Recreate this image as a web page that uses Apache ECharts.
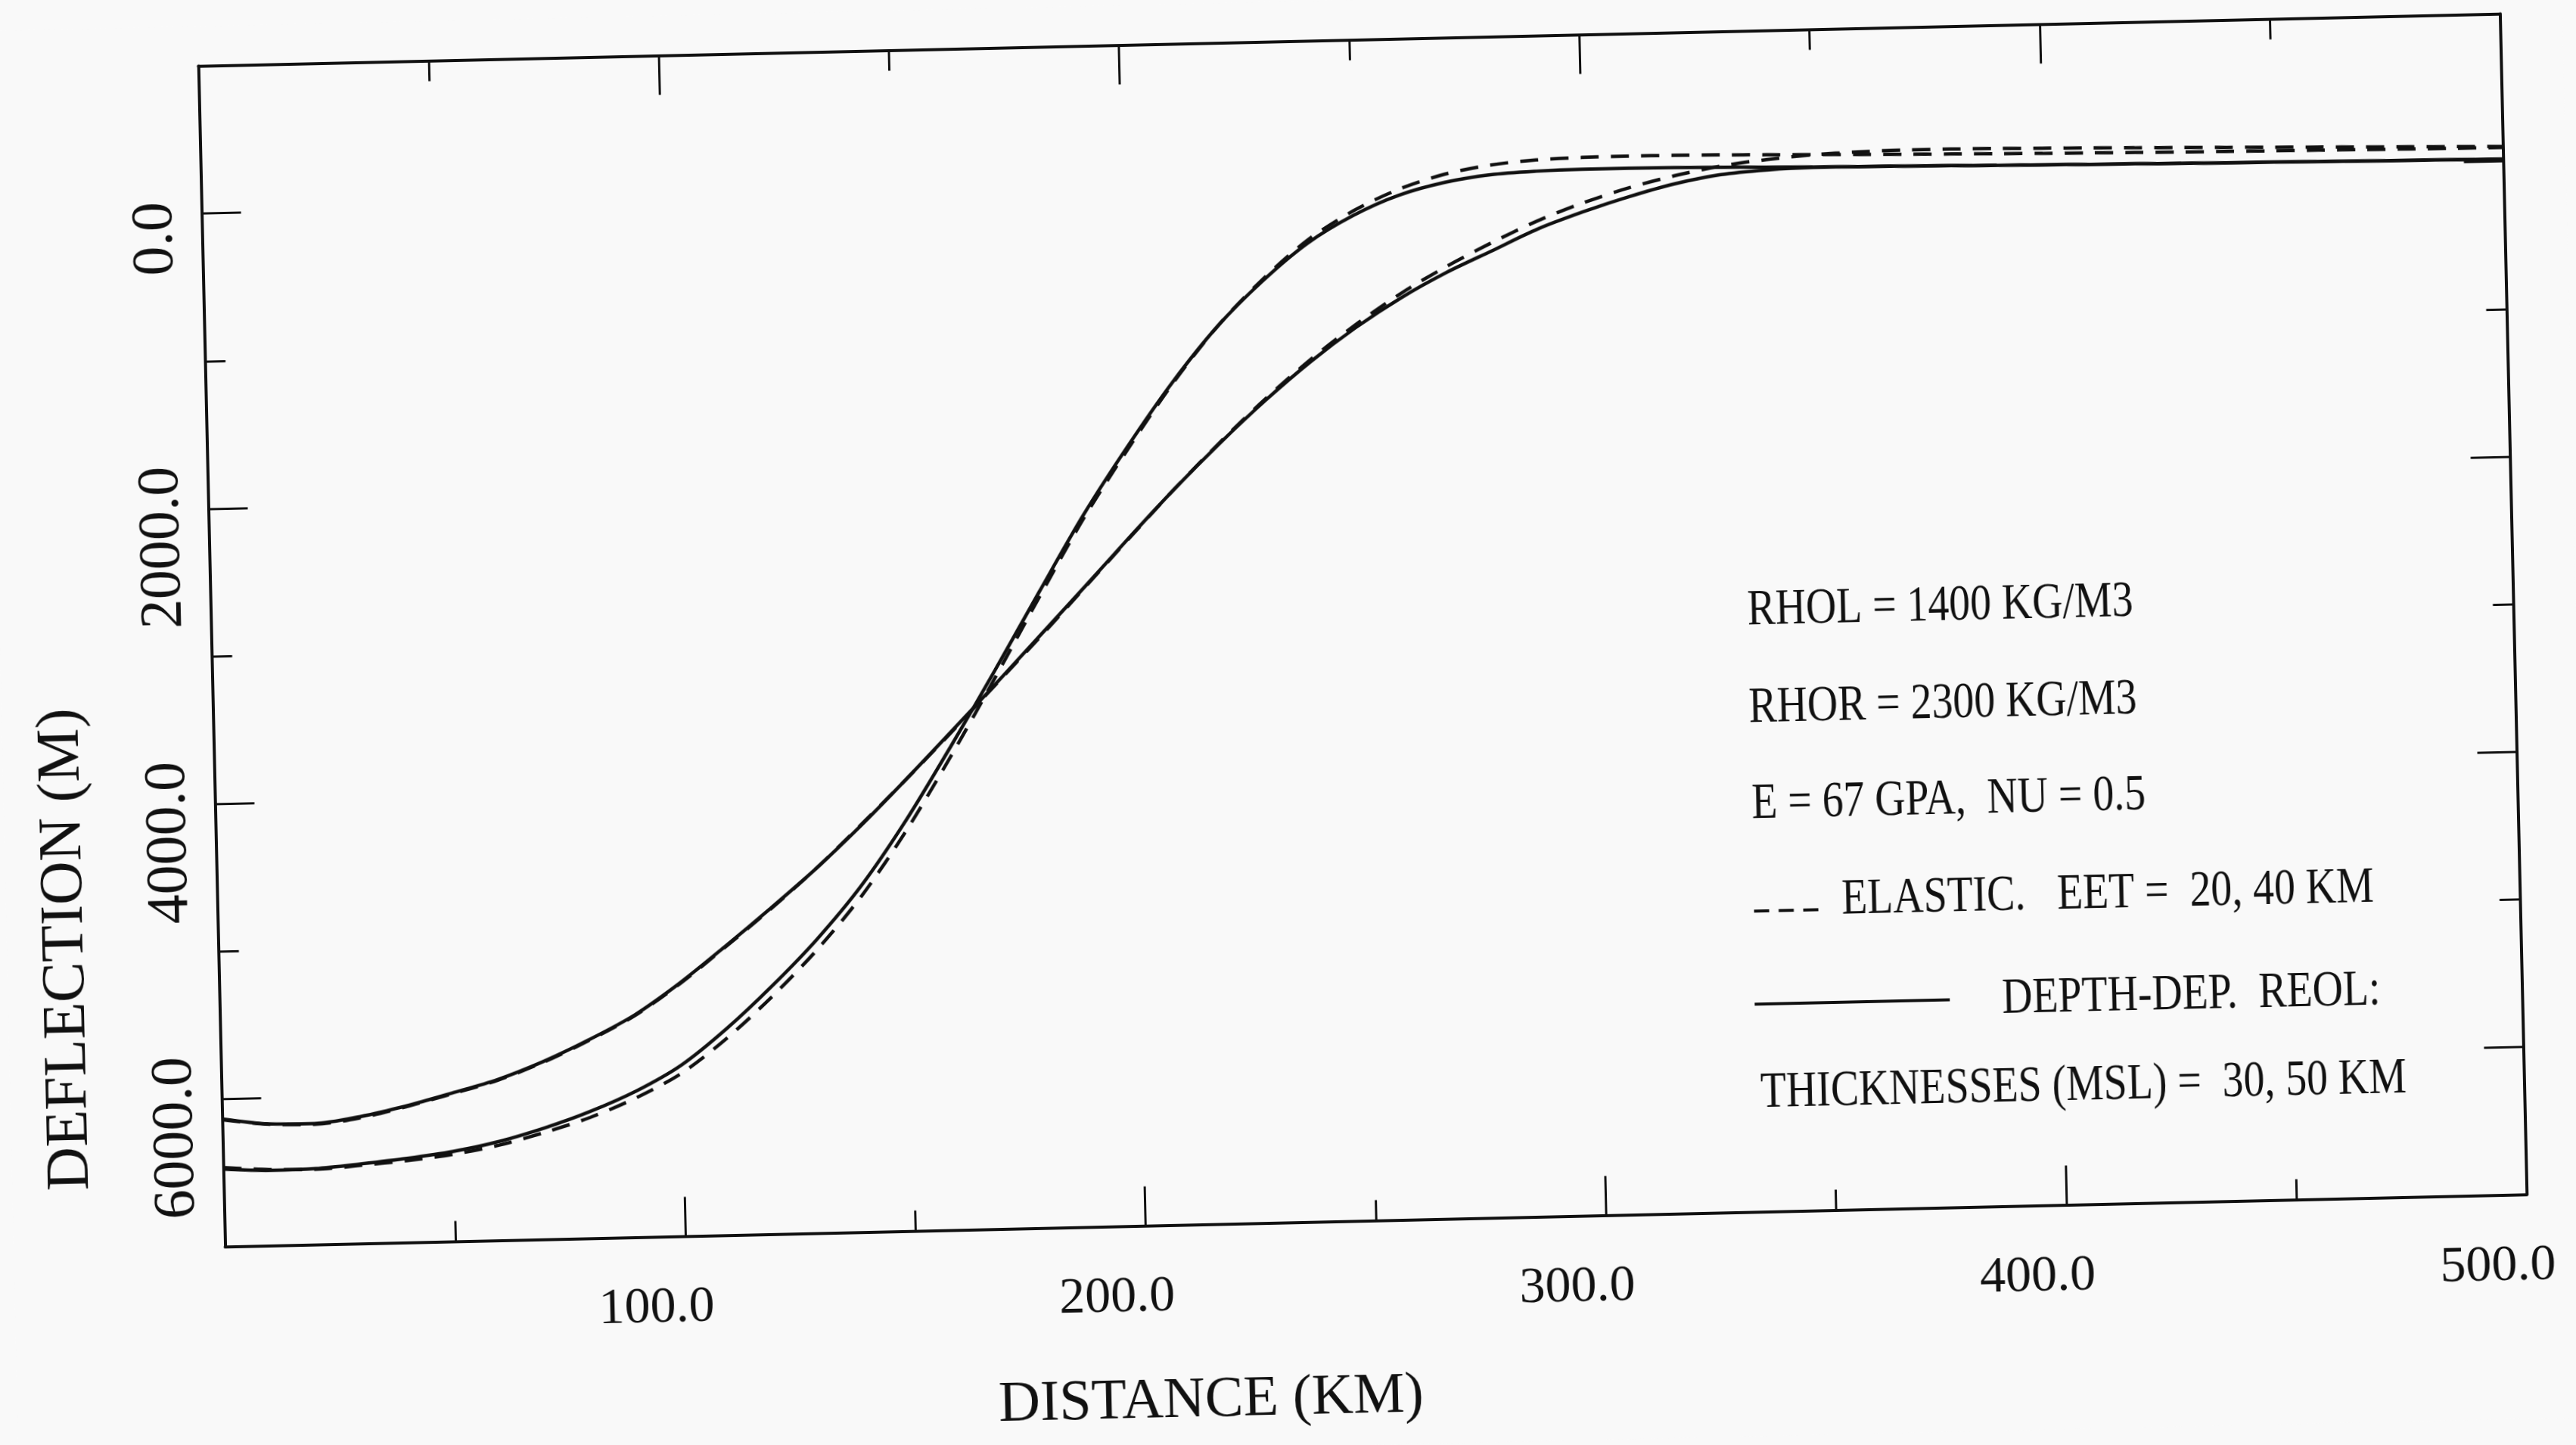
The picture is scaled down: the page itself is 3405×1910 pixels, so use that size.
<!DOCTYPE html>
<html>
<head>
<meta charset="utf-8">
<title>Deflection profiles</title>
<script src="https://cdn.jsdelivr.net/npm/echarts@6/dist/echarts.min.js"></script>
<style>
  html, body { margin: 0; padding: 0; background: #f9f9f9; overflow: hidden; }
  /* the printed plot sits slightly tilted on the page */
  #chart { width: 3405px; height: 1910px; transform: rotate(-1.3deg); transform-origin: 1801px 833px; }
</style>
</head>
<body>
<div id="chart"></div>
<script>
// Distance from the load (km)
const distanceKm = [0, 10, 20, 30, 40, 50, 60, 70, 80, 90,
  100, 110, 120, 130, 140, 150, 160, 170, 180, 190,
  200, 210, 220, 230, 240, 250, 260, 270, 280, 290,
  300, 310, 320, 330, 340, 350, 360, 370, 380, 390,
  400, 410, 420, 430, 440, 450, 460, 470, 480, 490, 500];

// Deflection (m), depth-dependent rheology, thickness 30 km
const depthDep30 = [6475, 6490, 6485, 6460, 6430, 6390, 6330, 6245, 6140, 6010,
  5840, 5600, 5320, 5010, 4650, 4215, 3725, 3215, 2690, 2175,
  1715, 1290, 920, 620, 370, 190, 60, -20, -65, -82,
  -88, -88, -85, -80, -74, -68, -64, -60, -56, -51,
  -47, -43, -40, -36, -33, -30, -27, -24, -21, -18, -15];

// Deflection (m), depth-dependent rheology, thickness 50 km
const depthDep50 = [6135, 6175, 6180, 6140, 6075, 5995, 5910, 5795, 5655, 5495,
  5285, 5045, 4795, 4535, 4250, 3945, 3630, 3310, 2985, 2660,
  2330, 2010, 1710, 1430, 1175, 950, 755, 590, 450, 310,
  200, 105, 25, -30, -55, -65, -63, -60, -56, -51,
  -47, -43, -40, -36, -33, -30, -27, -24, -21, -18, -15];

// Deflection (m), elastic plate, EET 20 km
const elastic20 = [6465, 6485, 6490, 6470, 6445, 6410, 6355, 6275, 6180, 6055,
  5895, 5665, 5390, 5080, 4720, 4285, 3790, 3265, 2725, 2200,
  1735, 1300, 920, 610, 350, 160, 20, -75, -130, -158,
  -168, -170, -168, -164, -158, -152, -146, -140, -135, -130,
  -125, -121, -117, -113, -110, -107, -104, -101, -98, -96, -94];

// Deflection (m), elastic plate, EET 40 km
const elastic40 = [6140, 6178, 6185, 6148, 6080, 6000, 5915, 5800, 5660, 5500,
  5290, 5050, 4800, 4535, 4245, 3945, 3635, 3315, 2995, 2665,
  2335, 2010, 1705, 1420, 1160, 930, 725, 550, 395, 255,
  140, 45, -30, -88, -125, -150, -163, -168, -168, -165,
  -160, -155, -149, -143, -137, -131, -125, -119, -113, -107, -101];

// Labelled deflection ticks (m)
const yLabelValues = [0, 2000, 4000, 6000];

// Parameter block printed inside the plot
const paramLines = [
  'RHOL = 1400 KG/M3',
  'RHOR = 2300 KG/M3',
  'E = 67 GPA,  NU = 0.5',
  'ELASTIC.   EET =  20, 40 KM',
  'DEPTH-DEP.  REOL:',
  'THICKNESSES (MSL) =  30, 50 KM'
];

const INK = '#111';
const SERIF = '"Liberation Serif", "Times New Roman", serif';

const gridBox = { left: 279.5, top: 52.5, width: 3043, height: 1561 };

function pairs(values) {
  return distanceKm.map((x, i) => [x, values[i]]);
}

// tick-only axes stay on the frame edge (never moved to the zero line)
function tickAxis(extra) {
  return Object.assign({
    type: 'value',
    splitLine: { show: false },
    axisLabel: { show: false },
    axisLine: { show: false, onZero: false },
    axisTick: { show: true, inside: true, lineStyle: { color: INK, width: 3 } }
  }, extra);
}

const frameLine = { show: true, onZero: false, lineStyle: { color: INK, width: 4 } };
const shortTick = { show: true, inside: true, length: 27, lineStyle: { color: INK, width: 3 } };
const longTick = { show: true, inside: true, length: 52, lineStyle: { color: INK, width: 3 } };

const chart = echarts.init(document.getElementById('chart'), null, { renderer: 'canvas' });

function lineSeries(name, values, dashed) {
  return {
    name: name,
    type: 'line',
    xAxisIndex: 0,
    yAxisIndex: 0,
    data: pairs(values),
    showSymbol: false,
    symbol: 'none',
    smooth: 0.3,
    animation: false,
    z: dashed ? 4 : 3,
    lineStyle: { color: INK, width: 4.5, type: dashed ? [24, 16] : 'solid' }
  };
}

const textBase = { fontFamily: SERIF, fill: INK, fontSize: 68, verticalAlign: 'middle', align: 'left' };
function paramText(str, x, y) {
  return { type: 'text', x: x, y: y, scaleX: 0.82, z: 10,
    style: Object.assign({ text: str }, textBase) };
}

chart.setOption({
  backgroundColor: '#f9f9f9',
  animation: false,
  grid: Object.assign({ containLabel: false, outerBoundsMode: 'none' }, gridBox),
  xAxis: [
    tickAxis({
      position: 'bottom', min: 0, max: 500, interval: 100,
      axisLine: frameLine,
      axisTick: longTick,
      axisLabel: {
        show: true, margin: 61, color: INK, fontFamily: SERIF, fontSize: 68,
        formatter: v => (v === 0 ? '' : '{a|' + v.toFixed(1) + '}'),
        rich: { a: { fontFamily: SERIF, fontSize: 68, color: INK, padding: [0, 80, 0, 0] } }
      },
      name: 'DISTANCE (KM)', nameLocation: 'middle', nameGap: 196, nameMoveOverlap: false,
      nameTextStyle: { fontFamily: SERIF, fontSize: 76, color: INK, padding: [0, 446, 0, 0] }
    }),
    tickAxis({ position: 'bottom', min: 0, max: 500, interval: 50, axisTick: shortTick }),
    tickAxis({ position: 'top', min: 0, max: 500, interval: 100, axisLine: frameLine, axisTick: longTick }),
    tickAxis({ position: 'top', min: 0, max: 500, interval: 50, axisTick: shortTick })
  ],
  yAxis: [
    tickAxis({ position: 'left', inverse: true, min: -1000, max: 7000, interval: 1000,
      axisLine: frameLine, axisTick: shortTick }),
    tickAxis({
      position: 'left', inverse: true, min: -1000, max: 7000,
      axisTick: Object.assign({ customValues: yLabelValues }, longTick),
      axisLabel: {
        show: true, customValues: yLabelValues, rotate: 90, margin: 22,
        color: INK, fontFamily: SERIF, fontSize: 78,
        formatter: v => (v === 0 ? '{s|0.0}' : '{l|' + v.toFixed(1) + '}'),
        rich: {
          s: { fontFamily: SERIF, fontSize: 78, color: INK, padding: [0, 64, 0, 0] },
          l: { fontFamily: SERIF, fontSize: 78, color: INK, padding: [0, 100, 0, 0] }
        }
      },
      name: 'DEFLECTION (M)', nameLocation: 'middle', nameRotate: 90, nameGap: 161,
      nameMoveOverlap: false,
      nameTextStyle: { fontFamily: SERIF, fontSize: 80, color: INK, padding: [0, 766, 0, 0] }
    }),
    tickAxis({ position: 'right', inverse: true, min: -1000, max: 7000, interval: 1000,
      axisLine: frameLine, axisTick: shortTick }),
    tickAxis({ position: 'right', inverse: true, min: -1000, max: 7000,
      axisTick: Object.assign({ customValues: yLabelValues }, longTick) })
  ],
  series: [
    lineSeries('Depth-dependent rheology, 30 km', depthDep30, false),
    lineSeries('Depth-dependent rheology, 50 km', depthDep50, false),
    lineSeries('Elastic, EET 20 km', elastic20, true),
    lineSeries('Elastic, EET 40 km', elastic40, true)
  ],
  graphic: [
    paramText(paramLines[0], 2310, 819),
    paramText(paramLines[1], 2309, 948),
    paramText(paramLines[2], 2310, 1075),
    { type: 'line', z: 10, shape: { x1: 2310, y1: 1216, x2: 2396, y2: 1216 },
      style: { stroke: INK, lineWidth: 4, lineDash: [20, 12.5] } },
    paramText(paramLines[3], 2426, 1204),
    { type: 'line', z: 10, shape: { x1: 2308, y1: 1339, x2: 2566, y2: 1339 },
      style: { stroke: INK, lineWidth: 4 } },
    paramText(paramLines[4], 2635, 1340),
    paramText(paramLines[5], 2313, 1457)
  ]
});
</script>
</body>
</html>
